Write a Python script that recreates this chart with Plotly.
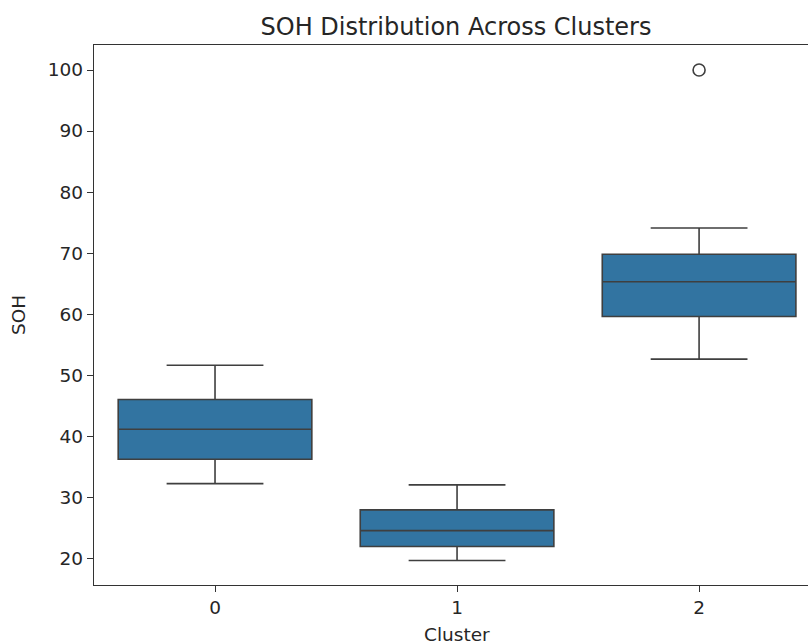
import plotly.graph_objects as go

clusters = [0, 1, 2]
q1 = [36.2, 21.9, 59.6]
median = [41.1, 24.5, 65.3]
q3 = [46.0, 27.9, 69.8]
lower = [32.2, 19.6, 52.6]
upper = [51.6, 32.0, 74.1]
outlier_x = [2]
outlier_y = [100.0]

tick_vals = [20, 30, 40, 50, 60, 70, 80, 90, 100]

FILL = "#3274a1"
LINE = "#3f3f3f"
FONT = "DejaVu Sans"

fig = go.Figure()
fig.add_trace(go.Box(
    x=clusters, q1=q1, median=median, q3=q3,
    lowerfence=lower, upperfence=upper,
    width=0.8, whiskerwidth=0.5,
    fillcolor=FILL, line=dict(color=LINE, width=1.6),
    boxpoints=False, showlegend=False, hoverinfo="skip",
))
fig.add_trace(go.Scatter(
    x=outlier_x, y=outlier_y, mode="markers",
    marker=dict(symbol="circle-open", size=12, color=LINE, line=dict(width=1.6, color=LINE)),
    showlegend=False, hoverinfo="skip",
))

fig.update_layout(
    width=808, height=644,
    margin=dict(l=94, r=0, t=45, b=59, autoexpand=False),
    paper_bgcolor="white", plot_bgcolor="white",
    font=dict(family=FONT, size=18.5, color="#262626"),
    title=dict(text="SOH Distribution Across Clusters", font=dict(size=24, color="#262626"),
               xref="container", x=456/808, xanchor="center",
               yref="container", y=1-27/644, yanchor="middle"),
    xaxis=dict(range=[-0.5, 2.45], tickvals=clusters, ticktext=[str(c) for c in clusters],
               showline=True, linecolor="#333333", linewidth=1.3, mirror=True,
               ticks="outside", ticklen=6, tickwidth=1.3, tickcolor="#333333",
               showgrid=False, zeroline=False, automargin=False),
    yaxis=dict(range=[15.58, 104.1], tickvals=tick_vals,
               showline=True, linecolor="#333333", linewidth=1.3, mirror=False,
               ticks="outside", ticklen=6, tickwidth=1.3, tickcolor="#333333",
               showgrid=False, zeroline=False, automargin=False),
    annotations=[
        dict(text="Cluster", xref="paper", yref="paper", x=(457-94)/714, y=-(634-585)/540,
             xanchor="center", yanchor="middle", showarrow=False, font=dict(size=18.5)),
        dict(text="SOH", xref="paper", yref="paper", x=-(94-18)/714, y=0.5, textangle=-90,
             xanchor="center", yanchor="middle", showarrow=False, font=dict(size=18.5)),
    ],
)

fig.write_html("out.html", config={"displayModeBar": False},
               post_script="document.body.style.margin='0';document.body.style.overflow='hidden';")
